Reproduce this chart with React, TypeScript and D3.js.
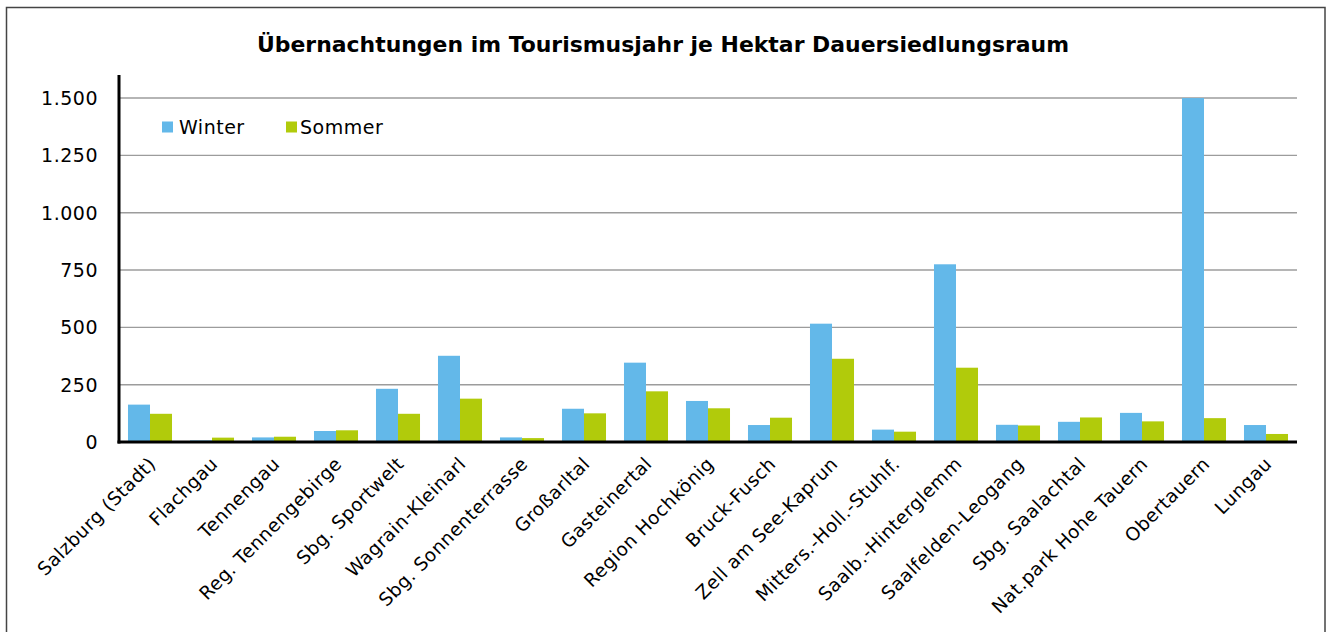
import React from "react";
import * as d3 from "d3";

const categories = [
  "Salzburg (Stadt)", "Flachgau", "Tennengau", "Reg. Tennengebirge", "Sbg. Sportwelt",
  "Wagrain-Kleinarl", "Sbg. Sonnenterrasse", "Großarltal", "Gasteinertal", "Region Hochkönig",
  "Bruck-Fusch", "Zell am See-Kaprun", "Mitters.-Holl.-Stuhlf.", "Saalb.-Hinterglemm",
  "Saalfelden-Leogang", "Sbg. Saalachtal", "Nat.park Hohe Tauern", "Obertauern", "Lungau",
];
const winter = [163, 7, 20, 48, 232, 376, 20, 145, 346, 179, 74, 516, 54, 775, 75, 88, 127, 1500, 74];
const sommer = [123, 19, 23, 51, 123, 189, 17, 125, 221, 147, 106, 363, 45, 324, 72, 107, 90, 104, 35];
const yTicks = [0, 250, 500, 750, 1000, 1250, 1500];
const seriesNames = ["Winter", "Sommer"];
const colors = ["#63b8e9", "#b1cb0b"];
const title = "Übernachtungen im Tourismusjahr je Hektar Dauersiedlungsraum";

const W = 1326, H = 632;
const left = 119, right = 1297, base = 442;
const font = "'DejaVu Sans', Verdana, sans-serif";

export default function App() {
  const x = d3.scaleBand<string>().domain(categories).range([left, right]).paddingInner(0.29).paddingOuter(0.145);
  const bw = x.bandwidth() / 2;
  const y = d3.scaleLinear().domain([0, 1600]).range([base, base - 1600 * 0.2293]);
  const fmt = (v: number) => d3.format(",")(v).replace(/,/g, ".");
  const step = (right - left) / categories.length;

  return (
    <div style={{ position: "absolute", left: 0, top: 0 }}>
      <svg width={W} height={H} style={{ display: "block", fontFamily: font }}>
        <rect x={0} y={0} width={W} height={H} fill="#fff" />
        <rect x={6.5} y={7.5} width={1318.5} height={640} fill="none" stroke="#444" strokeWidth={1.5} />
        <text x={663} y={52} textAnchor="middle" fontSize={21} fontWeight="bold" textLength={812} lengthAdjust="spacingAndGlyphs">{title}</text>
        {yTicks.map((t) => (
          <g key={t}>
            {t > 0 && <line x1={left} x2={right} y1={y(t)} y2={y(t)} stroke="#9c9c9c" strokeWidth={1.4} />}
            <text x={98} y={y(t)} dy="0.36em" textAnchor="end" fontSize={19} letterSpacing={0.5}>{fmt(t)}</text>
          </g>
        ))}
        {categories.map((c, i) => (
          <g key={c}>
            <rect x={x(c)!} y={y(winter[i])} width={bw} height={base - y(winter[i])} fill={colors[0]} />
            <rect x={x(c)! + bw} y={y(sommer[i])} width={bw} height={base - y(sommer[i])} fill={colors[1]} />
            <text transform={`translate(${left + step * (i + 0.5) + 7},${465}) rotate(-45)`} textAnchor="end" fontSize={18.5} letterSpacing={0.5}>{c}</text>
          </g>
        ))}
        <line x1={left} x2={left} y1={y(1600)} y2={base + 1.5} stroke="#000" strokeWidth={3} />
        <line x1={left - 1.5} x2={right} y1={base} y2={base} stroke="#000" strokeWidth={3} />
        {seriesNames.map((s, i) => (
          <g key={s}>
            <rect x={162 + i * 124} y={121.5} width={11} height={11} fill={colors[i]} />
            <text x={179 + i * 121} y={134} fontSize={19} letterSpacing={0.5}>{s}</text>
          </g>
        ))}
      </svg>
    </div>
  );
}
